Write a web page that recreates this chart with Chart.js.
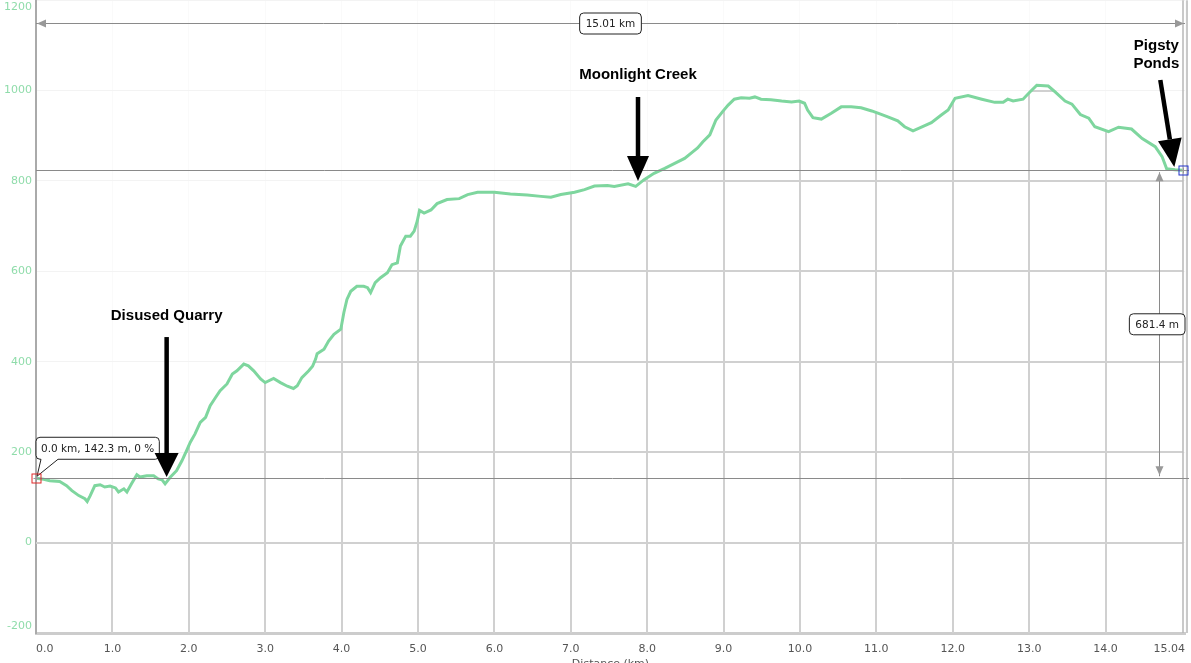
<!DOCTYPE html>
<html>
<head>
<meta charset="utf-8">
<script src="https://cdn.jsdelivr.net/npm/chart.js@4.4.1/dist/chart.umd.min.js"></script>
<style>
  html, body { margin: 0; padding: 0; background: #fff; overflow: hidden; }
  #wrap { position: absolute; left: 0; top: -17px; width: 1191px; height: 690px; }
</style>
</head>
<body>
<div id="wrap"><canvas id="perfil"></canvas></div>
<script>
// perfil de altitude (km, m)
const distKm = [0.00, 0.10, 0.18, 0.31, 0.40, 0.47, 0.56, 0.64, 0.67, 0.71, 0.77, 0.84, 0.90, 0.97, 1.04, 1.08, 1.15, 1.19, 1.25, 1.32,
  1.36, 1.45, 1.54, 1.60, 1.65, 1.69, 1.76, 1.84, 1.91, 1.98, 2.02, 2.08, 2.15, 2.22, 2.28, 2.35, 2.41, 2.50, 2.57, 2.63,
  2.72, 2.78, 2.85, 2.94, 3.00, 3.11, 3.20, 3.29, 3.37, 3.42, 3.48, 3.57, 3.62, 3.66, 3.68, 3.77, 3.83, 3.90, 3.99, 4.03,
  4.07, 4.12, 4.20, 4.29, 4.34, 4.38, 4.44, 4.51, 4.60, 4.66, 4.73, 4.77, 4.84, 4.90, 4.95, 4.99, 5.02, 5.08, 5.17, 5.25,
  5.38, 5.54, 5.65, 5.78, 6.00, 6.21, 6.43, 6.61, 6.74, 6.87, 7.05, 7.18, 7.31, 7.48, 7.57, 7.75, 7.85, 7.96, 8.09, 8.23,
  8.36, 8.49, 8.60, 8.66, 8.73, 8.82, 8.90, 8.99, 9.06, 9.14, 9.23, 9.34, 9.41, 9.49, 9.62, 9.76, 9.89, 9.99, 10.06, 10.10,
  10.17, 10.28, 10.41, 10.54, 10.67, 10.80, 10.94, 11.02, 11.15, 11.28, 11.37, 11.48, 11.59, 11.72, 11.85, 11.94, 12.03, 12.20, 12.38, 12.55,
  12.66, 12.72, 12.79, 12.92, 13.01, 13.10, 13.25, 13.34, 13.47, 13.56, 13.67, 13.78, 13.86, 14.04, 14.17, 14.34, 14.48, 14.65, 14.74, 14.80,
  14.91, 15.01];
const altM = [142.3, 140, 137, 135, 126, 115, 104, 97, 91, 104, 126, 128, 123, 125, 121, 112, 119, 112, 130, 150,
  145, 148, 148, 141, 139, 130, 145, 159, 181, 207, 222, 240, 266, 277, 303, 321, 336, 351, 373, 380,
  395, 391, 380, 362, 354, 363, 354, 346, 341, 347, 365, 380, 390, 406, 418, 428, 446, 461, 472, 509,
  538, 556, 567, 567, 564, 553, 575, 586, 597, 615, 619, 656, 678, 678, 689, 711, 735, 729, 736, 750,
  759, 761, 770, 775, 775, 771, 769, 766, 764, 770, 775, 781, 789, 790, 788, 794, 788, 803, 817, 828,
  839, 850, 865, 873, 887, 902, 935, 954, 968, 981, 984, 983, 986, 981, 980, 977, 975, 977, 972, 957,
  940, 937, 950, 964, 964, 962, 955, 950, 942, 933, 920, 911, 919, 929, 946, 957, 983, 989, 981, 974,
  974, 981, 977, 981, 997, 1012, 1010, 997, 977, 970, 947, 939, 920, 909, 919, 915, 894, 876, 854, 827,
  825, 823.7];

const yTicks = [-200, 0, 200, 400, 600, 800, 1000, 1200];
const xTicks = [0, 1, 2, 3, 4, 5, 6, 7, 8, 9, 10, 11, 12, 13, 14, 15.04];
const xTickLabels = ['0.0', '1.0', '2.0', '3.0', '4.0', '5.0', '6.0', '7.0', '8.0', '9.0', '10.0', '11.0', '12.0', '13.0', '14.0', '15.04'];

// notas com seta (texto, km e altitude da ponta da seta)
const notaTexto = [['Disused Quarry'], ['Moonlight Creek'], ['Pigsty', 'Ponds']];
const notaKm = [1.71, 7.88, 14.90];
const notaAlt = [145, 800, 831];

const rotuloInicio = '0.0 km, 142.3 m, 0 %';
const rotuloDist = '15.01 km';
const rotuloDesnivel = '681.4 m';

const fonte = '"DejaVu Sans", Verdana, sans-serif';

function seta(ctx, sx, sy, tx, ty, cab, larg, haste) {
  const ang = Math.atan2(ty - sy, tx - sx);
  const bx = tx - cab * Math.cos(ang), by = ty - cab * Math.sin(ang);
  ctx.strokeStyle = '#000';
  ctx.fillStyle = '#000';
  ctx.lineWidth = haste;
  ctx.beginPath();
  ctx.moveTo(sx, sy);
  ctx.lineTo(bx, by);
  ctx.stroke();
  ctx.beginPath();
  ctx.moveTo(tx, ty);
  ctx.lineTo(bx + larg * Math.sin(ang), by - larg * Math.cos(ang));
  ctx.lineTo(bx - larg * Math.sin(ang), by + larg * Math.cos(ang));
  ctx.closePath();
  ctx.fill();
}

function setaCinza(ctx, x, y, dir) {
  // dir: 'l', 'r', 'u', 'd'
  ctx.fillStyle = '#999';
  ctx.beginPath();
  if (dir == 'l') { ctx.moveTo(x, y); ctx.lineTo(x + 9, y - 4); ctx.lineTo(x + 9, y + 4); }
  if (dir == 'r') { ctx.moveTo(x, y); ctx.lineTo(x - 9, y - 4); ctx.lineTo(x - 9, y + 4); }
  if (dir == 'u') { ctx.moveTo(x, y); ctx.lineTo(x - 4, y + 9); ctx.lineTo(x + 4, y + 9); }
  if (dir == 'd') { ctx.moveTo(x, y); ctx.lineTo(x - 4, y - 9); ctx.lineTo(x + 4, y - 9); }
  ctx.closePath();
  ctx.fill();
}

function caixa(ctx, texto, cx, cy, maxDir) {
  ctx.font = '10.5px ' + fonte;
  const w = ctx.measureText(texto).width + 12, h = 21;
  let l = cx - w / 2;
  if (maxDir && l + w > maxDir) l = maxDir - w;
  ctx.beginPath();
  ctx.roundRect(l, cy - h / 2, w, h, 4);
  ctx.fillStyle = '#fff';
  ctx.fill();
  ctx.strokeStyle = '#222';
  ctx.lineWidth = 1;
  ctx.stroke();
  ctx.fillStyle = '#222';
  ctx.textAlign = 'center';
  ctx.textBaseline = 'middle';
  ctx.fillText(texto, l + w / 2, cy + 1);
}

function marcador(ctx, x, y, cor) {
  ctx.strokeStyle = '#999';
  ctx.lineWidth = 1;
  ctx.beginPath();
  ctx.moveTo(x - 3, y); ctx.lineTo(x + 3, y);
  ctx.moveTo(x, y - 3); ctx.lineTo(x, y + 3);
  ctx.stroke();
  ctx.strokeStyle = cor;
  ctx.strokeRect(x - 4.5, y - 4.5, 9, 9);
}

// grade mais escura so debaixo da curva
const gradeSobCurva = {
  id: 'gradeSobCurva',
  beforeDatasetsDraw(chart) {
    const { ctx, chartArea: a, scales: { x, y } } = chart;
    const pts = chart.getDatasetMeta(0).data;
    ctx.save();
    ctx.beginPath();
    ctx.moveTo(pts[0].x, a.bottom);
    pts.forEach(p => ctx.lineTo(p.x, p.y));
    ctx.lineTo(pts[pts.length - 1].x, a.bottom);
    ctx.closePath();
    ctx.clip();
    ctx.strokeStyle = '#d0d0d0';
    ctx.lineWidth = 2;
    ctx.beginPath();
    x.ticks.forEach(t => {
      if (t.value <= 0 || t.value >= 15) return;
      const px = Math.round(x.getPixelForValue(t.value));
      ctx.moveTo(px, a.top); ctx.lineTo(px, a.bottom);
    });
    y.ticks.forEach(t => {
      if (t.value <= -200) return;
      const py = Math.round(y.getPixelForValue(t.value));
      ctx.moveTo(a.left, py); ctx.lineTo(a.right, py);
    });
    ctx.stroke();
    ctx.restore();
  }
};

const extras = {
  id: 'extras',
  afterDraw(chart) {
    const { ctx, chartArea: a, scales: { x, y } } = chart;
    const x0 = x.getPixelForValue(distKm[0]);
    const y0 = y.getPixelForValue(altM[0]);
    const x1 = x.getPixelForValue(distKm[distKm.length - 1]);
    const y1 = y.getPixelForValue(altM[altM.length - 1]);
    ctx.save();

    // borda direita dupla
    ctx.lineWidth = 1.5;
    ctx.strokeStyle = '#b8b8b8';
    ctx.beginPath();
    ctx.moveTo(a.right - 2, a.top); ctx.lineTo(a.right - 2, a.bottom);
    ctx.moveTo(a.right + 2, a.top); ctx.lineTo(a.right + 2, a.bottom);
    ctx.stroke();

    // linhas de referencia inicio / fim
    ctx.strokeStyle = '#8a8a8a';
    ctx.lineWidth = 1;
    ctx.beginPath();
    ctx.moveTo(a.left, Math.round(y0) + 0.5); ctx.lineTo(a.right + 4, Math.round(y0) + 0.5);
    ctx.moveTo(a.left, Math.round(y1) + 0.5); ctx.lineTo(a.right + 4, Math.round(y1) + 0.5);
    ctx.stroke();

    // cota horizontal (distancia)
    const yc = Math.round(a.top) + 23.5;
    ctx.beginPath();
    ctx.moveTo(a.left, yc); ctx.lineTo(a.right, yc);
    ctx.stroke();
    setaCinza(ctx, a.left + 1, yc, 'l');
    setaCinza(ctx, a.right - 1, yc, 'r');
    caixa(ctx, rotuloDist, (a.left + a.right) / 2, yc);

    // cota vertical (desnivel)
    const xc = Math.round(x1) - 23.5;
    ctx.strokeStyle = '#8a8a8a';
    ctx.beginPath();
    ctx.moveTo(xc, y1 + 2); ctx.lineTo(xc, y0 - 2);
    ctx.stroke();
    setaCinza(ctx, xc, y1 + 2, 'u');
    setaCinza(ctx, xc, y0 - 3, 'd');
    caixa(ctx, rotuloDesnivel, xc, (y0 + y1) / 2, a.right);

    // balao do ponto inicial
    ctx.font = '10.5px ' + fonte;
    const L = x0, R = x0 + ctx.measureText(rotuloInicio).width + 10, B = y0 - 19, T = B - 22, r = 4;
    ctx.beginPath();
    ctx.moveTo(L + r, T);
    ctx.lineTo(R - r, T); ctx.quadraticCurveTo(R, T, R, T + r);
    ctx.lineTo(R, B - r); ctx.quadraticCurveTo(R, B, R - r, B);
    ctx.lineTo(L + 22, B); ctx.lineTo(x0 + 1, y0 - 2); ctx.lineTo(L + 5, B);
    ctx.lineTo(L + r, B); ctx.quadraticCurveTo(L, B, L, B - r);
    ctx.lineTo(L, T + r); ctx.quadraticCurveTo(L, T, L + r, T);
    ctx.closePath();
    ctx.fillStyle = '#fff';
    ctx.fill();
    ctx.strokeStyle = '#222';
    ctx.lineWidth = 1;
    ctx.stroke();
    ctx.fillStyle = '#222';
    ctx.textAlign = 'left';
    ctx.textBaseline = 'middle';
    ctx.fillText(rotuloInicio, L + 5, (T + B) / 2 + 1);

    marcador(ctx, Math.round(x0) + 0.5, Math.round(y0) + 0.5, '#e02828');
    marcador(ctx, Math.round(x1) + 0.5, Math.round(y1) + 0.5, '#2233cc');

    // notas com setas pretas
    const geo = [
      { dx: 0, dy: -140, cab: 24, larg: 12, ty: -161 },
      { dx: 0, dy: -84, cab: 25, larg: 11, ty: -106 },
      { dx: -14, dy: -87, cab: 28, larg: 12, ty: -121 }
    ];
    notaTexto.forEach((linhas, i) => {
      const tx = x.getPixelForValue(notaKm[i]);
      const ty = y.getPixelForValue(notaAlt[i]);
      const g = geo[i];
      seta(ctx, tx + g.dx, ty + g.dy, tx, ty, g.cab, g.larg, 4.5);
      ctx.font = 'bold 15px "Liberation Sans", Arial, sans-serif';
      ctx.fillStyle = '#000';
      ctx.textAlign = 'center';
      ctx.textBaseline = 'middle';
      const cx = tx + g.dx - (i == 2 ? 4 : 0);
      linhas.forEach((t, k) => ctx.fillText(t, cx, ty + g.ty + k * 18));
    });
    ctx.restore();
  }
};

const canvas = document.getElementById('perfil');
const ctx = canvas.getContext('2d');
const grafico = new Chart(ctx, {
  type: 'line',
  data: {
    datasets: [{
      data: distKm.map((d, i) => ({ x: d, y: altM[i] })),
      borderColor: '#7ed69e',
      borderWidth: 3,
      pointRadius: 0,
      fill: false,
      tension: 0
    }]
  },
  options: {
    responsive: true,
    maintainAspectRatio: false,
    animation: false,
    layout: { padding: { left: 0, right: 6, top: 0, bottom: 0 } },
    plugins: { legend: { display: false }, tooltip: { enabled: false } },
    scales: {
      x: {
        type: 'linear',
        min: 0,
        max: 15.04,
        afterBuildTicks: (s) => { s.ticks = xTicks.map(v => ({ value: v })); },
        afterFit: (s) => { s.height = 40; s.paddingLeft = 0; s.paddingRight = 0; },
        grid: { color: '#fafafa', drawTicks: false },
        border: { color: '#cccccc', width: 3 },
        ticks: {
          align: 'inner',
          padding: 10,
          maxRotation: 0,
          autoSkip: false,
          color: '#555',
          font: { family: fonte, size: 11 },
          callback: (v, i) => xTickLabels[i]
        },
        title: { display: true, text: 'Distance (km)', color: '#555', font: { family: fonte, size: 11 }, padding: { top: 2, bottom: 2 } }
      },
      y: {
        min: -200,
        max: 1200,
        afterBuildTicks: (s) => { s.ticks = yTicks.map(v => ({ value: v })); },
        afterFit: (s) => { s.width = 36; },
        grid: { color: '#f3f3f3', drawTicks: false },
        border: { color: '#aaaaaa', width: 2 },
        ticks: {
          padding: 4,
          color: '#8fdcaa',
          font: { family: fonte, size: 11 },
          // primeiro e ultimo rotulo ficam para dentro do grafico
          callback: (v, i) => {
            if (i == 0) return [String(v), ''];
            if (i == yTicks.length - 1) return ['', String(v)];
            return String(v);
          }
        }
      }
    }
  },
  plugins: [gradeSobCurva, extras]
});
</script>
</body>
</html>
